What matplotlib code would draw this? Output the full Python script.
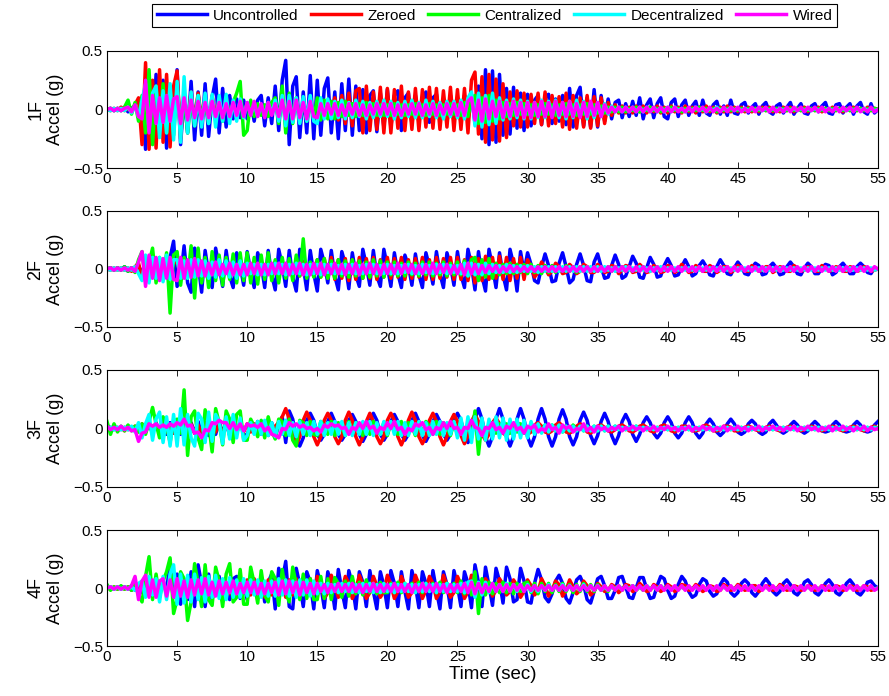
import numpy as np
import matplotlib
matplotlib.use("Agg")
import matplotlib.pyplot as plt

plt.rcParams['font.family'] = ['Liberation Sans', 'DejaVu Sans']

# Sampling: one value every quarter second, 0 .. 55 s
time_step = 0.25
floors = ["1F", "2F", "3F", "4F"]
strategies = ["Uncontrolled", "Zeroed", "Centralized", "Decentralized", "Wired"]
colors = ["#0000FF", "#FF0000", "#00FF00", "#00FFFF", "#FF00FF"]

# Floor accelerations in hundredths of g (each row covers 5 s)
unc_1f = [0, 1, -1, 1, -1, 2, -2, 1, 3, -4, 10, -34, 20, -28, 30, -22, 25, -33, 18, -15,
          34, -30, 12, -20, 24, -26, 15, -22, 22, -23, 10, 26, -20, 18, -15, 12, -8, 9, -7, 8,
          -8, 6, -10, 8, 12, -14, 10, -12, 20, -18, 25, 42, -30, 20, 28, -24, 15, -20, 29, -25,
          25, -22, 18, 27, -20, 15, -25, 22, -18, 26, -22, 20, -18, 17, -20, 12, 16, -19, 14, -15,
          17, -15, 12, 16, -18, 10, 14, -12, 12, -11, 8, 15, -11, 10, 13, -10, 9, -11, 12, -8,
          10, -11, 12, -9, 13, -12, 20, -25, 34, -30, 33, -28, 30, -22, 18, -21, 19, -16, 14, -18,
          13, -14, 8, 12, -13, 10, 13, -12, 9, -10, 12, -13, 18, -15, 12, 19, -14, 10, -15, 17,
          -15, 12, -10, 9, -8, 6, 8, -7, 5, -6, 7, -5, 10, -8, 4, 9, -7, 5, 10, -6,
          -8, 6, 9, -6, 4, 8, -5, 3, 7, -5, 8, -3, -5, 4, 7, -4, 3, -5, 8, -3,
          -4, 4, 6, -3, 2, 5, -4, 3, 6, -2, -4, 3, 5, -3, 2, 6, -4, 1, 5, -3,
          -4, 3, 5, -2, 3, 6, -3, -4, 4, 5, -3, 2, 5, -4, 3, 6, -2, -4, 5, -3,
          0]
zer_1f = [0, -1, 1, -1, 2, -1, 1, -2, 4, 10, -30, 40, -34, 25, -33, 34, -28, 30, -32, 20,
          33, -25, 12, -10, 15, -9, 14, -8, 10, -10, 12, -6, 8, -9, 11, -7, 6, -6, 5, -5,
          5, -4, 4, -5, 3, -4, 5, -3, 6, -5, 8, -8, 7, -6, 8, -8, 6, -7, 8, -6,
          -7, 8, -6, 7, -8, 10, -9, 12, -12, 14, -14, 16, 18, -20, 20, -18, 15, -17, 19, -20,
          18, -20, 17, -16, 20, -18, 15, -17, 18, -18, 17, -15, 19, -16, 18, -17, 16, -15, 19, -18,
          17, -17, 18, -20, 25, 32, -21, 28, -28, 30, -26, 26, -27, 22, -24, 15, -14, 16, -15, 14,
          -15, 13, -12, 14, -13, 15, -14, 12, -12, 11, -15, 14, -17, 12, -16, 10, -15, 12, -16, 11,
          -14, 10, -12, 6, -5, 4, -3, 3, -3, 2, -3, 3, -2, 3, -3, 2, -2, 3, -3, 2,
          -3, 3, -2, 2, -3, 3, -2, 2, -3, 2, -2, 3, -2, 2, -3, 2, -2, 3, -2, 2,
          -2, 2, -2, 2, -2, 1, -2, 2, -1, 2, -2, 1, -2, 2, -1, 2, -2, 1, -1, 2,
          -2, 1, -1, 2, -2, 1, -1, 2, -1, 1, -2, 1, -1, 2, -1, 1, -1, 2, -1, 1,
          0]
cen_1f = [0, 1, -1, 1, -1, 2, 8, -4, 6, -10, 12, -20, 34, -30, 20, -18, 22, -20, 18, -22,
          20, -18, 12, -20, 10, -14, 12, -10, 8, -12, 10, -9, 6, -10, 8, -7, 6, 14, 24, -22,
          -18, 8, -6, 5, -5, 4, -6, 6, 10, -12, 20, -20, 14, -12, 10, -11, 9, -10, 8, -9,
          10, -9, 8, -8, 7, -8, 6, -6, 7, -5, 5, -6, 5, -5, 6, -4, 5, -5, 4, -5,
          4, -5, 5, -4, 4, -5, 4, -4, 5, -4, 4, -5, 5, -4, 4, -5, 4, -4, 5, -4,
          4, -5, 6, -6, 8, 12, -12, 10, -11, 12, -10, 8, -8, 6, -6, 5, -5, 6, -4, 5,
          -4, 4, -5, 4, -4, 5, -4, 4, -5, 4, -4, 5, -4, 4, -5, 4, -4, 5, -4, 4,
          -3, 3, -3, 2, -2, 2, -2, 2, -2, 1, -1, 2, -2, 1, -1, 2, -1, 1, -2, 1,
          -1, 2, -1, 1, -2, 1, -1, 1, -1, 2, -1, 1, -1, 1, -2, 1, -1, 1, -1, 1,
          -1, 1, -1, 1, -1, 1, -1, 1, -1, 1, -1, 1, -1, 1, -1, 1, -1, 1, -1, 1,
          -1, 1, -1, 1, -1, 1, -1, 1, -1, 1, -1, 1, -1, 1, -1, 1, -1, 1, -1, 1,
          0]
dec_1f = [0, -1, 1, -1, 1, -1, 2, -3, 3, -6, 8, 22, -18, 14, 20, -24, 16, -20, 22, -26,
          24, -28, 28, -20, 15, -14, 12, -15, 14, -12, 13, -15, 12, -10, 13, -12, 8, -10, 9, -7,
          6, -5, 5, -6, 4, -5, 6, -4, 8, -10, 12, -14, 12, -11, 10, -12, 11, -10, 12, -10,
          -12, 10, -8, 9, -8, 7, -7, 8, -8, 6, -7, 8, -6, 7, -8, 6, -7, 7, -6, 8,
          -6, 7, -8, 6, -7, 7, -6, 8, -7, 6, -7, 8, -6, 7, -7, 6, -8, 7, -6, 7,
          -7, 8, -8, 10, 15, -14, 14, -15, 12, -13, 14, -12, 10, -9, 8, -8, 9, -7, 8, -8,
          7, -8, 6, -7, 8, -7, 7, -6, 8, -7, 6, -8, 7, -7, 8, -6, 7, -8, 6, -7,
          6, -6, 5, -4, 3, -2, 2, -2, 2, -2, 2, -2, 2, -2, 2, -2, 2, -2, 2, -2,
          2, -2, 2, -1, 1, -2, 1, -1, 2, -1, 1, -2, 1, -1, 2, -1, 1, -1, 2, -1,
          1, -1, 1, -1, 1, -1, 1, -1, 1, -1, 1, -1, 1, -1, 1, -1, 1, -1, 1, -1,
          1, -1, 1, -1, 1, -1, 1, -1, 1, -1, 1, -1, 1, -1, 1, -1, 1, -1, 1, -1,
          0]
wir_1f = [0, 1, -1, 1, -1, 1, 2, -2, 4, -6, -8, 25, -20, 12, -12, 10, -11, 12, -10, 9,
          11, -12, 10, -9, 8, -7, 7, -8, 6, -7, 7, -6, 6, -7, 5, -6, 6, -5, 7, -6,
          6, -5, 7, -6, 5, -7, 6, -5, 5, -6, 8, -8, 7, -8, 8, -7, 6, -8, 7, -6,
          -7, 5, -5, 5, -4, 5, -5, 4, -5, 5, -4, 5, -5, 4, -5, 4, -4, 5, -4, 5,
          -4, 5, -5, 4, -5, 4, -4, 5, -4, 5, -5, 4, -4, 5, -5, 4, -4, 5, -4, 5,
          -5, 6, -5, 7, 10, -9, 8, -10, 9, -8, 7, -6, 7, -7, 6, -6, 7, -5, 6, -7,
          6, -7, 6, -6, 7, -6, 6, -7, 7, -5, 6, -6, 7, -6, 5, -7, 6, -6, 7, -5,
          6, -6, 4, -3, 2, -2, 2, -2, 2, -2, 2, -2, 2, -2, 2, -2, 2, -2, 2, -2,
          2, -2, 2, -2, 1, -2, 2, -2, 2, -1, 2, -2, 2, -2, 1, -2, 2, -2, 2, -1,
          2, -2, 1, -2, 2, -2, 2, -1, 2, -2, 2, -2, 1, -2, 2, -2, 2, -1, 2, -2,
          2, -1, 2, -2, 2, -2, 1, -2, 2, -2, 2, -1, 2, -2, 2, -2, 1, -2, 2, -2,
          0]

unc_2f = [0, 1, -1, 1, -1, 2, -2, 1, -2, 3, -4, 5, 2, -5, 6, -4, -6, 5, 10, 24,
          -15, -8, 20, -12, -20, 18, 5, -20, 16, -4, -16, 18, 2, -15, 16, -6, -16, 14, 3, -14,
          15, -2, -16, 14, 4, -16, 16, -5, -18, 17, 3, -15, 16, -7, -19, 17, 2, -18, 16, -4,
          -19, 17, 5, -12, 16, -6, -18, 15, 4, -17, 14, -5, -15, 17, 3, -14, 16, -6, -15, 17,
          2, -15, 14, -4, -16, 12, 3, -14, 13, -5, -16, 14, 2, -13, 15, -4, -16, 14, 3, -14,
          15, -5, -16, 17, 3, -18, 15, -6, -19, 17, 2, -16, 14, -5, -18, 17, 4, -19, 15, -3,
          14, 4, -10, -12, 2, 13, 3, -11, -10, 5, 14, 2, -12, -9, 4, 13, 3, -10, -11, 6,
          13, 2, -8, -7, 3, 12, 4, -8, -6, 2, 11, 5, -7, -8, 1, 10, 4, -7, -6, 3,
          9, 3, -6, -5, 2, 8, 2, -6, -4, 3, 7, 2, -5, -6, 2, 8, 3, -4, -5, 1,
          6, 2, -4, -5, 1, 5, 3, -5, -4, 2, 5, 1, -5, -4, 2, 6, 2, -4, -5, 1,
          5, 2, -4, -4, 1, 4, 3, -5, -3, 2, 5, 1, -4, -4, 2, 5, 2, -3, -4, 1,
          0]
zer_2f = [0, -1, 1, -1, 1, -1, 1, -2, 2, 5, -8, 7, -6, 8, -5, 7, -7, 8, -6, 5,
          6, -5, 4, -6, 6, -5, 5, -4, 6, -5, 5, -6, 4, -5, 6, -4, 5, -6, 5, -5,
          5, -6, 4, -5, 6, -5, 5, -4, 6, -6, 5, -5, 6, -4, 5, -6, 6, -5, 4, -6,
          8, -7, 9, -8, 10, -9, 8, -8, 9, -10, 8, -9, 10, -8, 9, -8, 10, -9, 8, -7,
          10, -8, 9, -7, 10, -9, 8, -8, 9, -7, 10, -9, 8, -9, 10, -8, 9, -7, 10, -9,
          10, -9, 8, -10, 10, -12, 9, -10, 11, -9, 10, -8, 11, -9, 10, -10, 9, -8, 10, -9,
          8, 2, -7, -3, 6, 1, -5, -2, 5, 2, -4, -3, 4, 1, -4, -2, 4, 2, -3, -3,
          4, 1, -3, -2, 3, 2, -4, -1, 3, 2, -3, -2, 4, 1, -3, -2, 3, 1, -3, -2,
          3, 2, -3, -1, 4, 1, -3, -2, 3, 1, -2, -2, 3, 1, -3, -1, 2, 2, -3, -1,
          3, 1, -2, -2, 3, 1, -2, -1, 2, 2, -3, -1, 2, 1, -2, -2, 3, 1, -2, -1,
          2, 1, -2, -2, 3, 1, -2, -1, 2, 1, -2, -2, 2, 1, -2, -1, 2, 1, -2, -1,
          0]
cen_2f = [0, 1, -1, 1, -1, 2, -2, 1, -3, 8, 15, -10, 5, 18, -12, 10, -8, 14, -38, 12,
          15, -14, 10, -8, 20, -25, 18, -12, 10, -16, 15, -10, 12, -14, 10, -9, 13, -12, 14, -10,
          14, -12, 10, -13, 12, -9, 14, -10, 8, -12, 10, -8, 9, -10, 12, -6, 26, -8, 6, -7,
          8, -7, 9, -8, 7, -8, 8, -6, 7, -7, 8, -6, 7, -8, 6, -7, 8, -6, 7, -7,
          6, -5, 6, -6, 5, -6, 6, -5, 5, -6, 6, -5, 6, -6, 5, -5, 6, -6, 5, -5,
          6, -5, 7, -6, 8, 10, -10, 8, -7, 9, -8, 5, -5, 4, -4, 5, -4, 4, -3, 4,
          -4, 4, -3, 3, -4, 3, -3, 3, -3, 2, -2, 3, -2, 2, -3, 2, -2, 2, -2, 2,
          -2, 2, -2, 2, -2, 2, -2, 2, -2, 2, -2, 1, -1, 2, -2, 1, -1, 2, -1, 1,
          -1, 1, -1, 1, -1, 1, -1, 1, -1, 1, -1, 1, -1, 1, -1, 1, -1, 1, -1, 1,
          -1, 1, -1, 1, -1, 1, -1, 1, -1, 1, -1, 1, -1, 1, -1, 1, -1, 1, -1, 1,
          -1, 1, -1, 1, -1, 1, -1, 1, -1, 1, -1, 1, -1, 1, -1, 1, -1, 1, -1, 1,
          0]
dec_2f = [0, -1, 1, -1, 1, -1, 1, -1, 2, -4, -10, 12, -12, 10, -8, 10, -11, 12, -9, 8,
          8, -8, 7, -8, 8, -7, 8, -6, 7, -8, 6, -7, 8, -6, 7, -7, 6, -8, 7, -6,
          5, -4, 4, -5, 4, -5, 4, -4, 5, -4, 4, -5, 4, -4, 5, -4, 4, -5, 4, -4,
          4, -5, 4, -3, 4, -4, 3, -4, 4, -3, 4, -4, 3, -4, 4, -3, 4, -4, 3, -4,
          4, -4, 3, -4, 3, -3, 4, -4, 3, -4, 4, -3, 3, -4, 4, -3, 4, -4, 3, -3,
          3, -4, 5, -6, 5, -5, 4, -5, 5, -4, 4, -3, 3, -3, 4, -3, 3, -3, 3, -2,
          3, -2, 2, -3, 2, -2, 2, -2, 2, -2, 2, -2, 2, -2, 2, -2, 2, -2, 2, -2,
          2, -2, 2, -1, 1, -2, 1, -1, 2, -1, 1, -1, 2, -1, 1, -2, 1, -1, 2, -1,
          1, -1, 1, -1, 1, -1, 1, -1, 1, -1, 1, -1, 1, -1, 1, -1, 1, -1, 1, -1,
          1, -1, 1, -1, 1, -1, 1, -1, 1, -1, 1, -1, 1, -1, 1, -1, 1, -1, 1, -1,
          1, -1, 1, -1, 1, -1, 1, -1, 1, -1, 1, -1, 1, -1, 1, -1, 1, -1, 1, -1,
          0]
wir_2f = [0, 1, -1, 1, -1, 1, -1, 1, -2, 6, 15, -15, 12, -8, 10, -10, 9, -8, 10, -9,
          -10, 10, -8, 8, -7, 9, -6, 7, -6, 5, -5, 6, -5, 4, -4, 5, -5, 4, -5, 4,
          -5, 5, -4, 5, -5, 4, -5, 5, -4, 5, -4, 5, -5, 4, -4, 5, -5, 4, -5, 5,
          -4, 5, -5, 4, -4, 5, -4, 4, -5, 4, -4, 5, -5, 4, -4, 5, -4, 4, -5, 4,
          -4, 4, -4, 5, -4, 4, -3, 4, -4, 3, -4, 4, -4, 5, -4, 4, -3, 4, -4, 3,
          -4, 4, -5, 5, -4, 4, -4, 3, -3, 3, -2, 3, -3, 2, -2, 3, -2, 2, -2, 2,
          -2, 2, -2, 2, -2, 2, -2, 2, -2, 2, -2, 2, -2, 2, -2, 2, -2, 2, -2, 2,
          -2, 2, -2, 2, -2, 2, -2, 2, -2, 2, -2, 2, -2, 2, -2, 2, -2, 2, -2, 2,
          -2, 2, -2, 2, -2, 2, -2, 2, -2, 2, -2, 2, -2, 2, -2, 2, -2, 2, -2, 2,
          -2, 2, -2, 2, -2, 2, -2, 2, -2, 2, -2, 2, -2, 2, -2, 2, -2, 2, -2, 2,
          -2, 2, -2, 2, -2, 2, -2, 2, -2, 2, -2, 2, -2, 2, -2, 2, -2, 2, -2, 2,
          0]

unc_3f = [0, 1, -1, 1, -1, 1, -1, 1, -1, 2, -2, 1, 3, -4, 5, -3, 4, -5, 5, -4,
          6, -5, 4, -6, 5, -4, 6, -5, 5, -6, 4, -5, 6, -4, 5, -6, 5, -4, 6, -5,
          -6, 5, -4, 6, -5, 6, -6, 5, -8, 4, 10, -12, 15, 8, -8, -15, -8, 7, 13, 7,
          -5, -10, -5, 6, 13, 6, -5, -10, -5, 7, 12, 6, -5, -11, -5, 6, 13, 7, -5, -10,
          -5, 6, 12, 6, -5, -10, -5, 7, 13, 6, -6, -11, -5, 6, 12, 6, -5, -10, -5, 7,
          13, 7, -6, -12, -6, 8, 17, 8, -7, -15, -7, 8, 17, 8, -7, -15, -7, 8, 17, 8,
          -7, -15, -7, 8, 17, 8, -7, -15, -7, 8, 16, 8, -7, -14, -7, 7, 14, 7, -6, -13,
          -6, 6, 13, 6, -6, -13, -6, 6, 12, 6, -5, -11, -5, 5, 10, 5, -4, -8, -4, 5,
          10, 5, -4, -8, -4, 5, 10, 5, -4, -8, -4, 4, 8, 4, -3, -6, -3, 4, 8, 4,
          -3, -5, -3, 4, 7, 4, -3, -5, -3, 4, 7, 3, -2, -4, -2, 3, 6, 3, -2, -4,
          -2, 3, 6, 3, -2, -3, -2, 3, 6, 3, -2, -3, -2, 3, 6, 3, -2, -3, -2, 3,
          6]
zer_3f = [0, -1, 1, -1, 1, -2, 2, -1, 2, -3, 4, -3, 4, -2, 3, -4, 4, -3, 3, -4,
          3, -4, 4, -3, 4, -4, 3, -4, 4, -3, 4, -3, 4, -4, 3, -4, 4, -3, 4, -3,
          4, -3, 4, -4, 3, -4, 4, -3, 2, 5, 10, 17, 8, -7, -14, -7, 7, 14, 7, -7,
          -14, -7, 7, 13, 7, -7, -13, -7, 7, 14, 7, -7, -14, -7, 6, 13, 6, -7, -13, -7,
          7, 13, 7, -7, -14, -7, 7, 14, 7, -7, -13, -7, 7, 13, 6, -7, -14, -7, 6, 12,
          6, -6, -13, -6, 6, 12, 6, -5, -10, -5, 5, 9, 4, -4, -6, -3, 3, 5, 3, -3,
          -5, -3, 3, 5, 2, -3, -4, -2, 3, 5, 2, -3, -4, -2, 2, 4, 2, -3, -4, -1,
          2, 3, 1, -2, -3, -1, 2, 3, 1, -2, -3, -1, 2, 3, 1, -2, -3, -1, 2, 3,
          1, -2, -3, -1, 2, 2, 1, -2, -2, -1, 2, 3, 1, -2, -2, -1, 2, 2, 1, -2,
          -2, -1, 1, 2, 1, -1, -2, -1, 1, 2, 1, -1, -2, -1, 1, 2, 1, -1, -2, -1,
          1, 2, 1, -1, -2, -1, 1, 2, 1, -1, -2, -1, 1, 2, 1, -1, -2, -1, 1, 2,
          0]
cen_3f = [6, -5, 4, -3, 2, -2, 3, -2, 2, -3, 4, -5, 6, 18, 4, -8, 10, 2, -12, 6,
          8, -4, 33, -23, 10, 15, -8, -18, 16, 4, -20, 17, 5, -14, 15, 8, -12, 12, 15, -10,
          -10, 8, 2, -7, 7, -8, 10, -2, -9, 8, 6, -6, 8, -10, -15, 7, 5, -6, 6, -5,
          -6, 6, 2, -5, 6, -6, 5, 1, -6, 6, -5, 5, 3, -6, 5, -5, 6, 2, -5, 5,
          -6, 5, 3, -5, 6, -5, 5, 2, -6, 5, -5, 6, 2, -5, 6, -5, 5, 1, -6, 5,
          -5, 6, -6, 4, -8, 15, -22, 6, -5, 4, 5, -4, 4, -3, 4, -4, 3, -3, 4, -4,
          -3, 3, -4, 3, -3, 3, -2, 3, -2, 2, -3, 2, -2, 3, -2, 2, -2, 2, -2, 2,
          -2, 2, -2, 2, -1, 2, -1, 1, -1, 1, -1, 2, -1, 1, -1, 1, -1, 1, -1, 1,
          -1, 1, -1, 1, -1, 1, -1, 1, -1, 1, -1, 1, -1, 1, -1, 1, -1, 1, -1, 1,
          -1, 1, -1, 1, -1, 1, -1, 1, -1, 1, -1, 1, -1, 1, -1, 1, -1, 1, -1, 1,
          -1, 1, -1, 1, -1, 1, -1, 1, -1, 1, -1, 1, -1, 1, -1, 1, -1, 1, -1, 1,
          0]
dec_3f = [0, 1, -1, 1, -1, 1, -1, 2, -3, 5, -8, 4, 12, -10, 8, 14, -12, 10, -15, 12,
          -15, 17, -14, 12, -8, -15, 13, 8, -12, 14, -11, 12, 6, -13, 10, -9, 12, -8, 9, -10,
          -6, 5, -5, 6, -5, 7, -6, 5, -7, 6, -5, 7, -6, 5, -7, 6, -5, 5, -6, 6,
          -5, 6, -6, 5, -5, 6, -5, 6, -6, 5, -6, 5, -5, 6, -5, 6, -6, 5, -5, 6,
          -5, 6, -5, 6, -6, 5, -6, 6, -5, 6, -6, 5, -6, 6, -5, 6, -6, 5, -5, 6,
          -8, 9, -10, 10, -12, 10, -9, 9, -10, 8, -9, 10, -8, 9, -10, 8, -9, 8, -8, 7,
          -8, 6, -5, 4, -4, 3, -3, 3, -2, 3, -3, 2, -2, 2, -2, 2, -2, 2, -2, 2,
          -2, 2, -2, 2, -1, 2, -1, 1, -1, 1, -1, 2, -1, 1, -1, 1, -1, 1, -1, 1,
          -1, 1, -1, 1, -1, 1, -1, 1, -1, 1, -1, 1, -1, 1, -1, 1, -1, 1, -1, 1,
          -1, 1, -1, 1, -1, 1, -1, 1, -1, 1, -1, 1, -1, 1, -1, 1, -1, 1, -1, 1,
          -1, 1, -1, 1, -1, 1, -1, 1, -1, 1, -1, 1, -1, 1, -1, 1, -1, 1, -1, 1,
          0]
wir_3f = [2, -1, 1, -1, 2, -1, 1, -2, -1, -11, -4, -3, 4, 2, 4, 1, 3, 1, 4, 2,
          5, 3, 8, 2, 3, -4, -3, -8, -1, -2, 5, 4, 7, 5, 5, 0, 5, -1, 4, -2,
          4, 2, 3, 1, 4, -2, 1, -5, -6, -8, 0, -1, 5, 2, 4, 1, 3, 0, 1, -2,
          0, -3, 3, 1, 4, 2, 3, 0, 1, -5, 1, -1, 5, 0, 6, 0, 2, -4, 1, -1,
          5, 0, 6, -1, 1, -5, 0, -2, 4, 2, 5, -1, 1, -5, 1, -1, 5, 0, 6, 0,
          1, -5, 1, 0, 7, 1, 0, -6, 1, 0, 5, -1, 1, -4, 2, 0, 5, -1, 1, -4,
          2, 0, 3, -3, 0, -2, 4, -1, 1, -4, 3, 0, 2, -3, 0, -1, 4, -2, 1, -3,
          2, -1, 1, -2, 1, -1, 2, -2, 1, -1, 2, -1, 1, -2, 1, -1, 2, -2, 1, -1,
          2, -1, 1, -2, 1, -1, 2, -2, 1, -1, 2, -1, 1, -2, 1, -1, 2, -2, 1, -1,
          2, -1, 1, -2, 1, -1, 2, -2, 1, -1, 2, -1, 1, -2, 1, -1, 2, -2, 1, -1,
          2, -1, 1, -2, 1, -1, 2, -2, 1, -1, 2, -1, 1, -2, 1, -1, 2, -2, 1, -1,
          0]

unc_4f = [0, 1, -1, 1, -1, 1, -1, 2, -2, 3, -4, 5, -5, 6, -5, 4, 6, -3, 24, -8,
          12, -14, 5, -10, 14, -16, 20, 3, -16, 12, -10, 6, 10, -9, 4, -10, 8, 10, -9, 5,
          -10, 9, 2, -8, 10, -12, 5, 12, -18, 17, 6, 23, -16, -18, 17, 3, -16, 14, 5, -18,
          15, 2, -17, 14, 4, -18, 16, -2, -17, 15, 3, -18, 14, 5, -16, 15, -3, -18, 14, 2,
          -17, 15, 4, -16, 14, -3, -18, 15, 2, -17, 14, 4, -16, 15, -2, -18, 14, 3, -17, 15,
          2, -16, 14, 4, -17, 20, 5, -16, 18, 2, -15, 17, 6, -13, 18, 8, -12, -10, 17, 6,
          -12, -13, 4, 16, 7, -8, -12, -5, 6, 11, 4, -9, -13, -4, 7, 10, 3, -10, -13, -3,
          8, 10, 2, -9, -9, -2, 9, 10, 1, -8, -9, 0, 9, 9, -1, -9, -8, 2, 10, 8,
          -2, -9, -7, 3, 10, 6, -3, -8, -6, 3, 8, 6, -3, -7, -5, 3, 8, 5, -4, -7,
          -4, 4, 7, 4, -4, -7, -3, 4, 8, 4, -3, -6, -3, 4, 7, 3, -4, -6, -2, 5,
          7, 3, -4, -6, -2, 4, 7, 3, -4, -6, -2, 4, 7, 3, -4, -6, -2, 5, 6, 2,
          0]
zer_4f = [0, -1, 1, -1, 1, -1, 1, -2, 2, -4, 5, -4, 5, -3, 4, -5, 4, -4, 5, -5,
          4, -5, 5, -4, 4, -5, 5, -4, 4, -5, 3, -4, 5, -4, 4, -5, 3, -4, 5, -4,
          7, -6, 8, -7, 6, -8, 7, -6, 8, -7, 6, -8, 7, -6, 8, -7, 6, -7, 8, -6,
          10, 3, -9, -4, 11, 2, -8, -3, 10, 4, -9, -2, 11, 3, -9, -4, 10, 2, -8, -3,
          11, 3, -9, -3, 10, 2, -8, -4, 11, 3, -9, -2, 10, 4, -9, -3, 11, 2, -8, -4,
          10, 3, -9, -3, 11, 2, -9, -4, 8, 3, -7, -2, 8, 3, -6, -3, 7, 2, -8, -3,
          7, 2, -6, -3, 8, 2, -7, -2, 6, 3, -7, -2, 7, 1, -5, -2, 6, 2, -6, -3,
          4, 1, -3, -2, 3, 1, -4, -1, 3, 2, -3, -1, 4, 1, -3, -2, 3, 1, -3, -1,
          3, 1, -3, -1, 3, 2, -2, -1, 3, 1, -3, -1, 2, 1, -3, -2, 3, 1, -2, -1,
          3, 1, -2, -1, 2, 2, -3, -1, 2, 1, -2, -1, 3, 1, -2, -1, 2, 1, -2, -1,
          2, 1, -2, -1, 2, 1, -2, -1, 2, 1, -2, -1, 2, 1, -2, -1, 2, 1, -2, -1,
          0]
cen_4f = [3, -2, 1, -1, 2, -1, 1, -2, 3, -6, -12, 10, 27, -10, 12, -8, 6, 14, 26, -22,
          -10, 14, 8, -28, -12, 21, 4, -16, 20, -10, -15, 18, 6, -16, 12, 21, -12, -8, 16, -14,
          -14, 18, 4, -13, 15, -6, -12, 14, 8, -15, 16, -4, -12, 18, 3, -10, 12, -9, 8, -10,
          -10, 10, -9, 8, -10, 9, 4, -8, 6, -7, 10, -5, 5, -6, 7, -4, 4, -5, 5, -4,
          -4, 4, -4, 5, -4, 4, -3, 4, -4, 5, -4, 4, -3, 4, -4, 5, -4, 4, -3, 4,
          -4, 6, -5, 5, -6, 14, -22, 8, -6, 5, -5, 4, -4, 5, -4, 4, -5, 4, -3, 4,
          5, -4, 4, -5, 4, -3, 4, -4, 3, -3, 4, -3, 3, -4, 3, -3, 4, -3, 3, -3,
          3, -2, 2, -3, 2, -2, 2, -2, 2, -1, 2, -2, 1, -2, 2, -1, 1, -2, 2, -1,
          1, -1, 1, -1, 1, -1, 1, -1, 1, -1, 1, -1, 1, -1, 1, -1, 1, -1, 1, -1,
          1, -1, 1, -1, 1, -1, 1, -1, 1, -1, 1, -1, 1, -1, 1, -1, 1, -1, 1, -1,
          1, -1, 1, -1, 1, -1, 1, -1, 1, -1, 1, -1, 1, -1, 1, -1, 1, -1, 1, -1,
          0]
dec_4f = [0, 1, -1, 1, -1, 1, -1, 1, -2, 4, 6, -8, 10, -6, 8, -12, 10, -10, 12, 20,
          -14, 12, -13, 11, -12, 12, -10, 9, -12, 10, -8, 11, -9, 8, -10, 9, -8, 7, -8, 8,
          -7, 7, -6, 7, -8, 6, -7, 6, -7, 8, -6, 7, -7, 6, -8, 7, -6, 7, -7, 6,
          -5, 4, -5, 4, -4, 3, -4, 4, -3, 4, -4, 3, -4, 4, -3, 4, -4, 3, -4, 4,
          -3, 3, -4, 3, -3, 4, -3, 3, -4, 3, -3, 4, -3, 3, -4, 3, -3, 4, -3, 3,
          -3, 4, -4, 5, 6, -8, 5, -6, 5, -4, 4, -3, 3, -3, 4, -3, 3, -3, 3, -3,
          3, -3, 2, -3, 2, -2, 3, -2, 2, -2, 3, -2, 2, -2, 2, -2, 3, -2, 2, -2,
          2, -2, 1, -2, 1, -1, 2, -1, 1, -1, 2, -1, 1, -1, 2, -1, 1, -1, 2, -1,
          1, -1, 1, -1, 1, -1, 1, -1, 1, -1, 1, -1, 1, -1, 1, -1, 1, -1, 1, -1,
          1, -1, 1, -1, 1, -1, 1, -1, 1, -1, 1, -1, 1, -1, 1, -1, 1, -1, 1, -1,
          1, -1, 1, -1, 1, -1, 1, -1, 1, -1, 1, -1, 1, -1, 1, -1, 1, -1, 1, -1,
          0]
wir_4f = [0, 1, -1, 1, -1, 1, -1, 2, 10, -10, 6, 11, -8, 7, -8, 6, 8, -7, 7, -8,
          8, -7, 6, -8, 7, -6, 7, -5, 8, -6, 5, -7, 6, -5, 5, -4, 6, -5, 4, -4,
          5, -4, 5, -5, 4, -5, 4, -4, 5, -6, 6, -5, 6, -4, 5, -6, 5, -4, 4, -5,
          4, -3, 3, -4, 3, -3, 4, -3, 3, -3, 4, -3, 3, -4, 3, -3, 4, -3, 3, -3,
          3, -3, 4, -3, 3, -3, 3, -4, 3, -3, 4, -3, 3, -3, 4, -3, 3, -4, 3, -3,
          3, -3, 4, -4, 5, -5, 4, -4, 3, -3, 4, -3, 3, -3, 3, -3, 3, -2, 3, -3,
          2, -2, 2, -2, 2, -2, 2, -2, 2, -2, 2, -2, 2, -2, 2, -2, 2, -2, 2, -2,
          2, -2, 2, -2, 2, -2, 2, -2, 2, -2, 2, -2, 2, -2, 2, -2, 2, -2, 2, -2,
          2, -2, 2, -2, 2, -2, 2, -2, 2, -2, 2, -2, 2, -2, 2, -2, 2, -2, 2, -2,
          2, -2, 2, -2, 2, -2, 2, -2, 2, -2, 2, -2, 2, -2, 2, -2, 2, -2, 2, -2,
          2, -2, 2, -2, 2, -2, 2, -2, 2, -2, 2, -2, 2, -2, 2, -2, 2, -2, 2, -2,
          0]

records = [
    [unc_1f, zer_1f, cen_1f, dec_1f, wir_1f],
    [unc_2f, zer_2f, cen_2f, dec_2f, wir_2f],
    [unc_3f, zer_3f, cen_3f, dec_3f, wir_3f],
    [unc_4f, zer_4f, cen_4f, dec_4f, wir_4f],
]

W, H = 889, 696
fig = plt.figure(figsize=(W / 100, H / 100), dpi=100)

# axes boxes in pixels: (top, bottom)
left_px, right_px = 107, 878
rows_px = [(51, 168), (211, 327), (370, 487), (530, 646)]

axes = []
for (top, bot), floor, series in zip(rows_px, floors, records):
    ax = fig.add_axes([left_px / W, 1 - bot / H, (right_px - left_px) / W, (bot - top) / H])
    for vals, name, col in zip(series, strategies, colors):
        y = np.asarray(vals, dtype=float) / 100.0
        t = np.arange(len(y)) * time_step
        ax.plot(t, y, color=col, lw=2.5, label=name, solid_joinstyle='round')
    ax.set_xlim(0, 55)
    ax.set_ylim(-0.5, 0.5)
    ax.set_xticks(np.arange(0, 56, 5))
    ax.set_yticks([-0.5, 0, 0.5])
    ax.set_yticklabels(["\u22120.5", "0", "0.5"])
    ax.tick_params(direction='in', top=True, right=True, length=4, width=0.6,
                   labelsize=11, pad=3)
    for s in ax.spines.values():
        s.set_linewidth(0.8)
    ax.set_ylabel(floor + "\nAccel (g)", fontsize=13, labelpad=6, linespacing=1.25)
    axes.append(ax)

axes[-1].set_xlabel("Time (sec)", fontsize=13.5, labelpad=1)

handles, labels = axes[0].get_legend_handles_labels()
fig.legend(handles, labels, loc='upper center', bbox_to_anchor=(494.5 / W, 1 - 4 / H),
           ncol=5, fontsize=11, frameon=True, fancybox=False, edgecolor='black',
           framealpha=1, handlelength=3.3, handletextpad=0.4, columnspacing=0.8,
           borderpad=0.3, borderaxespad=0)
fig.legends[0].get_frame().set_linewidth(0.8)

fig.savefig("out.png", dpi=100)
